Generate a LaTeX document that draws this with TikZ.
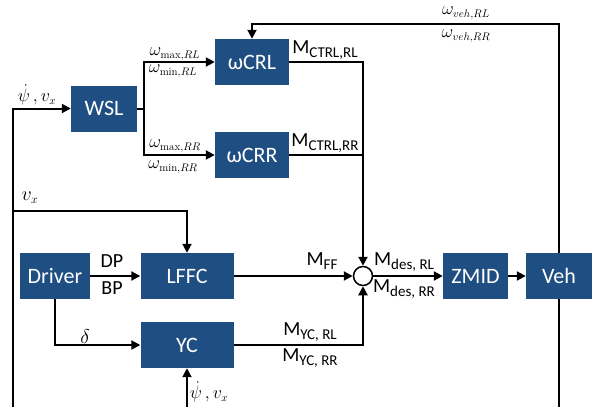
\RequirePackage{fix-cm}
\documentclass[tikz,border=0pt]{standalone}
\usepackage{fontspec}
\setsansfont{Carlito}
\usetikzlibrary{arrows.meta}
\definecolor{boxblue}{HTML}{1F4F82}
\DeclareMathSizes{18}{18}{11}{8}
\DeclareMathSizes{20}{20}{12}{9}
\newcommand{\msub}[1]{\raisebox{-4pt}{\fontsize{15}{16}\selectfont #1}}
\begin{document}
\begin{tikzpicture}[x=1pt,y=-1pt,
  blk/.style={draw=none,fill=boxblue,text=white,font=\fontsize{22}{24}\selectfont\sffamily,inner sep=0,minimum height=46pt},
  wire/.style={line width=2pt},
  arr/.style={wire,-{Triangle[length=9pt,width=9pt]}},
  lab/.style={inner sep=0,font=\fontsize{20}{22}\selectfont\sffamily},
  mlab/.style={inner sep=0,font=\fontsize{18}{20}\selectfont},
]
\useasboundingbox (0,0) rectangle (595,407);

% blocks
\node[blk,minimum width=66pt] (wsl) at (104,108.5) {WSL};
\node[blk,minimum width=74pt] (crl) at (252,62) {ωCRL};
\node[blk,minimum width=74pt] (crr) at (252,155) {ωCRR};
\node[blk,minimum width=70pt] (drv) at (55,276) {Driver};
\node[blk,minimum width=93pt] (lffc) at (187,276) {LFFC};
\node[blk,minimum width=93pt] (yc) at (187,345) {YC};
\node[blk,minimum width=65pt] (zmid) at (475.5,276) {ZMID};
\node[blk,minimum width=66pt] (veh) at (559,276) {Veh};
\node[circle,draw,line width=1.5pt,fill=white,minimum size=19pt,inner sep=0] (sum) at (363,276) {};

% free ends
\coordinate (lb) at (13,407);
\coordinate (vb) at (13,211);
\coordinate (jw) at (144,108.5);
\coordinate (ytop) at (559,24);
\coordinate (vehb) at (559,407);
\coordinate (ycb) at (187,407);

% connectors
\draw[arr] (lb) |- (wsl.west);
\draw[arr] (vb) -| (lffc.north);
\draw[wire] (wsl.east) -- (jw);
\draw[arr] (jw) |- (crl.west);
\draw[arr] (jw) |- (crr.west);
\draw[arr] (crl.east) -| (sum.north);
\draw[wire] (crr.east) -- (crr.east -| sum.north);
\draw[arr] (veh.north) -- (ytop) -| (crl.north);
\draw[wire] (veh.south) -- (vehb);
\draw[arr] (drv.east) -- (lffc.west);
\draw[arr] (drv.south) |- (yc.west);
\draw[arr] (lffc.east) -- (sum.west);
\draw[arr] (yc.east) -| (sum.south);
\draw[arr] (sum.east) -- (zmid.west);
\draw[arr] (zmid.east) -- (veh.west);
\draw[arr] (ycb) -- (yc.south);

% labels
\node[mlab] (l1) at (37,95) {$\dot\psi\,, v_x$};
\node[mlab,font=\fontsize{20}{22}\selectfont] (l2) at (30,198) {$v_x$};
\node[mlab] (l3) at (175,54) {$\omega_{\mathrm{max},RL}$};
\node[mlab] (l4) at (173,71) {$\omega_{\mathrm{min},RL}$};
\node[mlab] (l5) at (175,146) {$\omega_{\mathrm{max},RR}$};
\node[mlab] (l6) at (173,167) {$\omega_{\mathrm{min},RR}$};
\node[lab] (l7) at (325,50) {M\msub{CTRL,RL}};
\node[lab] (l8) at (325,143) {M\msub{CTRL,RR}};
\node[mlab] (l9) at (466,13) {$\omega_{veh,RL}$};
\node[mlab] (l10) at (466,36) {$\omega_{veh,RR}$};
\node[lab] (l11) at (112,261) {DP};
\node[lab] (l12) at (112,288) {BP};
\node[mlab,font=\fontsize{20}{22}\selectfont] (l13) at (85,337) {$\delta$};
\node[lab] (l14) at (322,261) {M\msub{FF}};
\node[lab] (l15) at (404,262) {M\msub{des, RL}};
\node[lab] (l16) at (404,289) {M\msub{des, RR}};
\node[lab] (l17) at (310,332) {M\msub{YC, RL}};
\node[lab] (l18) at (310,358) {M\msub{YC, RR}};
\node[mlab] (l19) at (209,392) {$\dot\psi\,, v_x$};
\end{tikzpicture}
\end{document}
